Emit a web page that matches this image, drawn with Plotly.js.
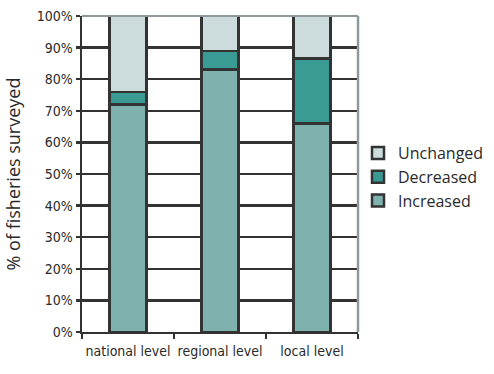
<!DOCTYPE html>
<html><head><meta charset="utf-8">
<script src="https://cdn.plot.ly/plotly-3.0.1.min.js"></script>
<style>body{margin:0;background:#fff}#chart{width:494px;height:374px}</style>
</head><body><div id="chart"></div>
<script>
const categories = ["national level", "regional level", "local level"];
const increased = [72, 83, 66];
const decreased = [4, 6, 20.5];
const unchanged = [24, 11, 13.5];
const yTickVals = [0,10,20,30,40,50,60,70,80,90,100];
const yTickText = ["0%","10%","20%","30%","40%","50%","60%","70%","80%","90%","100%"];

const lineStyle = {color: "#333333", width: 2.5};
const traces = [
  {name: "Increased", x: categories, y: increased, type: "bar", marker: {color: "#7fb2ae", line: lineStyle}},
  {name: "Decreased", x: categories, y: decreased, type: "bar", marker: {color: "#3a9b95", line: lineStyle}},
  {name: "Unchanged", x: categories, y: unchanged, type: "bar", marker: {color: "#ccdcdc", line: lineStyle}}
];
const tickFont = {size: 14, family: "DejaVu Sans Condensed, Liberation Sans Narrow, sans-serif", color: "#2a2a2a"};
const layout = {
  width: 494, height: 374,
  margin: {l: 82, r: 136, t: 16, b: 42, autoexpand: false},
  barmode: "stack", bargap: 0.6,
  paper_bgcolor: "#fff", plot_bgcolor: "#fff",
  font: {family: "Open Sans, Noto Sans, sans-serif", color: "#2a2a2a"},
  showlegend: true,
  legend: {traceorder: "reversed", x: 1.0, xanchor: "left", y: 0.62, yanchor: "top", bgcolor: "rgba(0,0,0,0)",
           font: {size: 16, family: "Open Sans, sans-serif", color: "#2a2a2a"}, itemwidth: 30, tracegroupgap: 0},
  xaxis: {type: "category", showline: true, linecolor: "#333", linewidth: 2, tickangle: 0,
          ticks: "outside", tickson: "boundaries", ticklen: 5, tickwidth: 2, tickcolor: "#333",
          ticklabelstandoff: 5, tickfont: tickFont, showgrid: false},
  yaxis: {range: [0, 100], tickvals: yTickVals, ticktext: yTickText, showline: true, linecolor: "#333", linewidth: 2.5,
          ticks: "outside", ticklen: 4, tickwidth: 2.5, tickcolor: "#333",
          showgrid: true, gridcolor: "#333", gridwidth: 2.5, zeroline: false,
          tickfont: tickFont,
          title: {text: "% of fisheries surveyed", font: {size: 18, family: "Open Sans, sans-serif", color: "#2a2a2a"}, standoff: 12}},
  shapes: [
    {type: "line", xref: "paper", yref: "paper", x0: 0, x1: 1, y0: 1, y1: 1, line: {color: "#8e999e", width: 2}},
    {type: "line", xref: "paper", yref: "paper", x0: 1, x1: 1, y0: 0, y1: 1, line: {color: "#8e999e", width: 2.5}}
  ]
};
Plotly.newPlot("chart", traces, layout, {staticPlot: true, displayModeBar: false});
</script></body></html>
